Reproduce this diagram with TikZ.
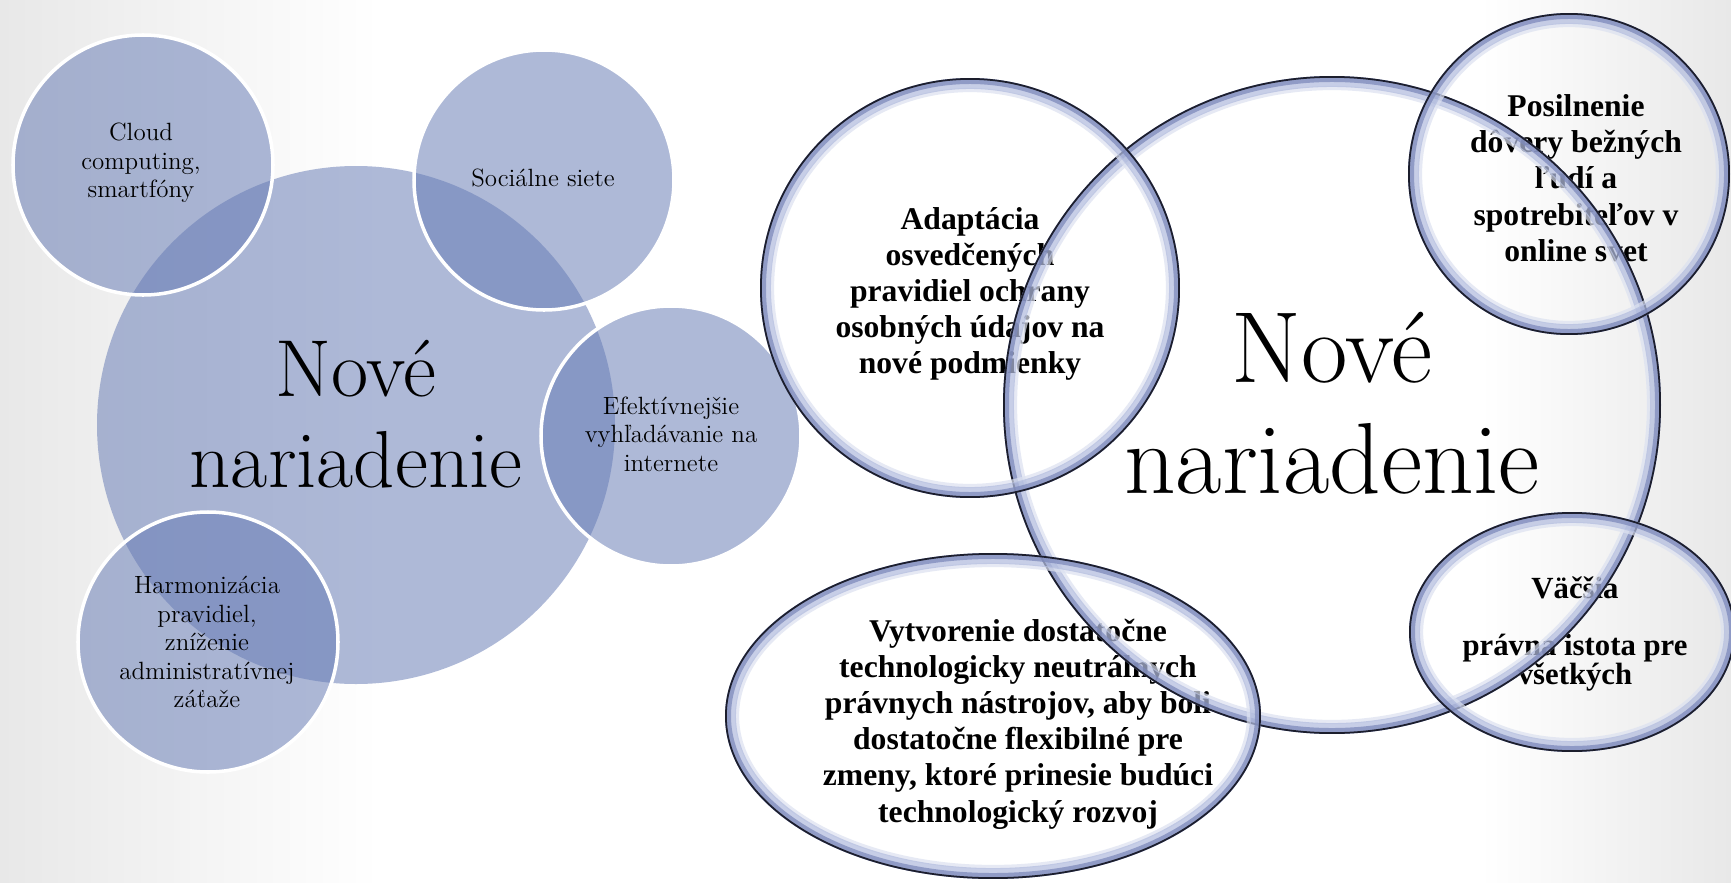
\documentclass[tikz,border=0pt]{standalone}
\usepackage{fontspec}
\newfontfamily\negrita{Liberation Serif}

\definecolor{burbuja}{RGB}{102,123,181}
\definecolor{anillo}{RGB}{126,138,188}
\definecolor{anilloclaro}{RGB}{178,188,222}
\definecolor{borde}{RGB}{28,30,45}
\definecolor{fondo}{RGB}{232,232,232}

\begin{document}
\begin{tikzpicture}[x=0.2mm,y=-0.2mm,
    bola/.style={fill=burbuja,fill opacity=0.53,draw=white,line width=2pt},
    titulo izq/.style={align=center,font=\fontsize{46}{52}\selectfont},
    titulo der/.style={align=center,font=\fontsize{57.5}{63}\selectfont},
    texto izq/.style={align=center,font=\fontsize{14.2}{16.2}\selectfont},
    texto der/.style={align=center,font=\negrita\bfseries\fontsize{18}{20.6}\selectfont},
    banda suave/.style={draw=anilloclaro!45,line width=2.4pt,draw opacity=0.7},
    banda/.style={draw=anilloclaro,line width=6.2pt,draw opacity=0.72},
    banda media/.style={draw=anillo,line width=3.4pt,draw opacity=0.75},
    linea/.style={draw=borde,line width=1pt}]
    % fondo
    \clip (0,0) rectangle (1731,883);
    \fill[white] (0,0) rectangle (1731,883);
    \fill[left color=fondo,right color=white] (0,0) rectangle (380,883);
    \fill[left color=white,right color=fondo] (1480,0) rectangle (1731,883);

    % circulos izquierda
    \fill[burbuja,fill opacity=0.53] (356,425) circle (259);
    \foreach \cx/\cy in {143/165,544/180,671/436,208/642}
        \draw[bola] (\cx,\cy) circle (130);

    % textos izquierda
    \node[titulo izq] (nuevo izq) at (356,414) {Nové\\nariadenie};
    \node[texto izq] (cloud) at (141,163) {Cloud\\computing,\\smartfóny};
    \node[texto izq] (siete) at (543,178) {Sociálne siete};
    \node[texto izq] (vyhladavanie) at (671,434) {Efektívnejšie\\vyhľadávanie na\\internete};
    \node[texto izq] (harmonizacia) at (207,642) {Harmonizácia\\pravidiel,\\zníženie\\administratívnej\\záťaže};

    % textos derecha
    \node[titulo der] (nuevo der) at (1332,403) {Nové\\nariadenie};
    \node[texto der] (adaptacia) at (970,294) {Adaptácia\\osvedčených\\pravidiel ochrany\\osobných údajov na\\nové podmienky};
    \node[texto der] (dovera) at (1576,178) {Posilnenie\\dôvery bežných\\ľudí a\\spotrebiteľov v\\online svet};
    \node[texto der,font=\negrita\bfseries\fontsize{17.5}{16}\selectfont] (istota) at (1575,634) {Väčšia\\[16.4pt]právna istota pre\\všetkých};
    \node[texto der] (vytvorenie) at (1018,724) {Vytvorenie dostatočne\\technologicky neutrálnych\\právnych nástrojov, aby boli\\dostatočne flexibilné pre\\zmeny, ktoré prinesie budúci\\technologický rozvoj};

    % anillos derecha
    \foreach \cx/\cy/\rx/\ry in {1332/405/329/329,970/288/210/210,1569/174/161/161,993/716/268/163,1572/632/163/120}{
        \draw[banda suave] (\cx,\cy) ellipse ({\rx-12} and {\ry-12});
        \draw[banda] (\cx,\cy) ellipse ({\rx-5.5} and {\ry-5.5});
        \draw[banda media] (\cx,\cy) ellipse ({\rx-3} and {\ry-3});
        \draw[linea] (\cx,\cy) ellipse ({\rx-0.9} and {\ry-0.9});
    }
\end{tikzpicture}
\end{document}
